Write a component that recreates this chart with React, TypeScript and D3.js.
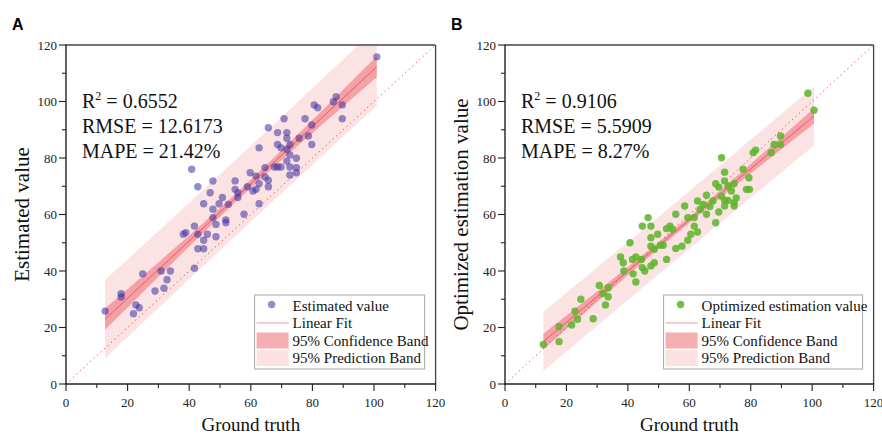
import React from 'react';
import * as d3 from 'd3';

const W = 882;
const H = 435;

// Panel A: ground truth vs estimated value
const groundTruthA = [12.7, 17.9, 17.9, 24.9, 22.7, 23.8, 21.9, 28.9, 30.9, 33.9, 32.8, 31.8, 41.7, 38.1, 38.9, 41.7, 42.8, 42.8, 44.7, 44.7, 45.9, 40.8, 42.8, 44.7, 46.8, 47.7, 47.7, 47.7, 48.7, 48.7, 49.7, 50.8, 51.9, 51.9, 52.7, 54.9, 54.9, 55.8, 55.8, 57.8, 58.9, 59.8, 60.7, 61.7, 61.7, 62.7, 62.7, 62.7, 64.6, 64.6, 65.7, 65.7, 65.7, 67.7, 68.7, 68.7, 68.7, 69.8, 69.8, 70.8, 71.7, 71.7, 71.7, 71.7, 72.7, 72.7, 72.7, 72.7, 74.8, 74.8, 74.8, 75.7, 77.6, 78.7, 79.8, 79.8, 80.6, 81.7, 86.8, 87.7, 89.7, 89.7, 100.9];
const estimatedA = [25.8, 32.0, 30.8, 39.0, 28.0, 27.0, 24.9, 32.9, 40.0, 40.0, 36.9, 33.9, 41.0, 53.0, 53.6, 55.9, 53.0, 47.9, 47.9, 50.9, 53.0, 76.0, 69.8, 63.8, 67.7, 71.9, 61.9, 58.9, 56.5, 52.1, 63.8, 66.0, 58.1, 57.1, 63.6, 71.9, 68.9, 66.0, 67.7, 60.1, 69.8, 74.8, 68.3, 68.9, 73.6, 83.6, 70.9, 63.8, 76.6, 73.3, 90.7, 72.1, 69.8, 76.8, 76.8, 89.0, 84.8, 83.6, 76.8, 93.9, 89.0, 87.0, 83.1, 78.9, 76.8, 74.0, 84.8, 81.1, 79.9, 76.6, 74.8, 87.0, 93.9, 87.8, 91.7, 84.8, 98.8, 97.8, 99.9, 101.7, 98.8, 93.9, 115.8];

// Panel B: ground truth vs optimized estimation value
const groundTruthB = [12.5, 17.6, 17.6, 21.7, 22.8, 23.6, 24.7, 28.7, 30.7, 31.8, 32.7, 33.6, 33.6, 37.6, 38.5, 38.7, 40.7, 41.5, 41.7, 42.6, 42.6, 44.4, 44.7, 44.7, 45.5, 46.6, 47.5, 47.5, 47.5, 47.5, 48.6, 48.6, 49.7, 50.6, 51.5, 52.6, 52.6, 53.7, 54.5, 55.6, 55.6, 57.6, 58.5, 59.5, 59.5, 60.5, 61.6, 61.6, 62.7, 62.7, 63.5, 64.6, 65.6, 65.6, 66.7, 67.7, 68.6, 68.6, 69.6, 69.6, 70.5, 70.5, 71.5, 71.5, 71.5, 71.5, 72.6, 72.6, 73.7, 74.6, 74.6, 75.3, 74.6, 77.5, 79.4, 78.6, 79.6, 80.8, 81.6, 86.7, 87.6, 89.7, 89.7, 98.6, 100.6];
const optimizedB = [14.0, 20.3, 15.0, 20.9, 25.8, 22.9, 30.0, 23.1, 34.9, 32.0, 28.0, 30.9, 34.1, 45.0, 42.9, 40.0, 50.0, 44.1, 39.0, 45.0, 36.1, 44.1, 55.9, 41.2, 40.0, 58.9, 55.9, 51.8, 48.8, 41.8, 42.9, 47.7, 53.0, 49.1, 49.1, 55.0, 44.1, 55.9, 54.8, 60.1, 48.0, 48.8, 63.0, 58.9, 50.9, 53.0, 55.9, 58.9, 64.8, 53.8, 61.8, 63.6, 66.8, 60.1, 62.8, 64.8, 70.9, 57.1, 60.9, 69.7, 80.1, 66.5, 75.0, 71.9, 65.0, 63.0, 70.1, 65.0, 68.3, 70.9, 64.2, 65.9, 63.0, 76.0, 73.0, 68.9, 68.9, 81.9, 82.8, 81.9, 84.8, 84.8, 87.8, 102.9, 96.9];

const axisTicks = [0, 20, 40, 60, 80, 100, 120];
const minorTicks = [10, 30, 50, 70, 90, 110];
const statsA = ['0.6552', '12.6173', '21.42%'];
const statsB = ['0.9106', '5.5909', '8.27%'];
const legendLabels = ['Linear Fit', '95% Confidence Band', '95% Prediction Band'];

const SERIF = "'Liberation Serif', 'Times New Roman', Times, serif";
const SANS = "'Liberation Sans', Arial, Helvetica, sans-serif";

function regression(xs: number[], ys: number[]) {
  const n = xs.length;
  const mx = d3.mean(xs) as number;
  const my = d3.mean(ys) as number;
  const sxx = d3.sum(xs, (x) => (x - mx) ** 2);
  const sxy = d3.sum(xs.map((x, i) => (x - mx) * (ys[i] - my)));
  const b = sxy / sxx;
  const a = my - b * mx;
  const sse = d3.sum(xs.map((x, i) => (ys[i] - a - b * x) ** 2));
  const s = Math.sqrt(sse / (n - 2));
  const t = 1.99;
  const xmin = d3.min(xs) as number;
  const xmax = d3.max(xs) as number;
  const grid = d3.range(0, 61).map((i) => xmin + ((xmax - xmin) * i) / 60);
  const rows = grid.map((x) => {
    const yh = a + b * x;
    const se = s * Math.sqrt(1 / n + (x - mx) ** 2 / sxx);
    const sp = s * Math.sqrt(1 + 1 / n + (x - mx) ** 2 / sxx);
    return { x, yh, cLo: yh - t * se, cHi: yh + t * se, pLo: yh - t * sp, pHi: yh + t * sp };
  });
  return { rows };
}

type PanelProps = {
  id: string;
  letter: string;
  left: number;
  right: number;
  xs: number[];
  ys: number[];
  color: string;
  opacity: number;
  yTitle: string;
  pointLabel: string;
  stats: string[];
  legendWidth: number;
};

function Panel(p: PanelProps) {
  const top = 45;
  const bottom = 384;
  const x = d3.scaleLinear().domain([0, 120]).range([p.left, p.right]);
  const y = d3.scaleLinear().domain([0, 120]).range([bottom, top]);
  const { rows } = regression(p.xs, p.ys);
  const predArea = d3.area<any>().x((d) => x(d.x)).y0((d) => y(d.pLo)).y1((d) => y(d.pHi))(rows) as string;
  const confArea = d3.area<any>().x((d) => x(d.x)).y0((d) => y(d.cLo)).y1((d) => y(d.cHi))(rows) as string;
  const fitLine = d3.line<any>().x((d) => x(d.x)).y((d) => y(d.yh))(rows) as string;
  const clipId = `clip-${p.id}`;
  const lx = p.right - 11 - p.legendWidth;
  const ly = 295;
  const rowY = [306, 323.5, 341, 358.5];
  const cx = (p.left + p.right) / 2;
  const cy = (top + bottom) / 2;
  return (
    <g>
      <defs>
        <clipPath id={clipId}>
          <rect x={p.left} y={top} width={p.right - p.left} height={bottom - top} />
        </clipPath>
      </defs>
      <g clipPath={`url(#${clipId})`}>
        <path d={predArea} fill="#f8c8ca" fillOpacity={0.5} />
        <path d={confArea} fill="#ef6b73" fillOpacity={0.55} />
        <line x1={x(0)} y1={y(0)} x2={x(120)} y2={y(120)} stroke="#f03c3c" strokeWidth={1} strokeDasharray="1.2,3.5" />
        <path d={fitLine} fill="none" stroke="#e8505c" strokeWidth={0.9} />
        {p.xs.map((v, i) => (
          <circle key={i} cx={x(v)} cy={y(p.ys[i])} r={3.7} fill={p.color} fillOpacity={p.opacity} />
        ))}
      </g>
      {/* frame */}
      <line x1={p.left} y1={top} x2={p.right} y2={top} stroke="#444" strokeWidth={1.3} />
      <line x1={p.right} y1={top} x2={p.right} y2={bottom} stroke="#444" strokeWidth={1.3} />
      <line x1={p.left} y1={top - 0.6} x2={p.left} y2={bottom + 0.6} stroke="#222" strokeWidth={1.4} />
      <line x1={p.left - 0.6} y1={bottom} x2={p.right + 0.6} y2={bottom} stroke="#222" strokeWidth={1.4} />
      {axisTicks.map((t) => (
        <g key={`y${t}`}>
          <line x1={p.left - 7} x2={p.left} y1={y(t)} y2={y(t)} stroke="#222" strokeWidth={1.1} />
          <text x={p.left - 9} y={y(t)} dy="0.35em" textAnchor="end" fontFamily={SERIF} fontSize={13} fill="#222">{t}</text>
          <line x1={x(t)} x2={x(t)} y1={bottom} y2={bottom + 7} stroke="#222" strokeWidth={1.1} />
          <text x={x(t)} y={407} textAnchor="middle" fontFamily={SERIF} fontSize={13} fill="#222">{t}</text>
        </g>
      ))}
      {minorTicks.map((t) => (
        <g key={`m${t}`}>
          <line x1={p.left - 4} x2={p.left} y1={y(t)} y2={y(t)} stroke="#222" strokeWidth={1.1} />
          <line x1={x(t)} x2={x(t)} y1={bottom} y2={bottom + 4} stroke="#222" strokeWidth={1.1} />
        </g>
      ))}
      <text x={cx} y={431} textAnchor="middle" fontFamily={SERIF} fontSize={19} fill="#111">Ground truth</text>
      <text transform={`translate(${p.left - 44},${cy}) rotate(-90)`} textAnchor="middle" dy="0.35em" fontFamily={SERIF} fontSize={21} fill="#111">{p.yTitle}</text>
      <text x={p.left - 54} y={30} fontFamily={SANS} fontWeight="bold" fontSize={16} fill="#000">{p.letter}</text>
      {/* stats */}
      <g fontFamily={SERIF} fontSize={20} fill="#111">
        <text x={p.left + 16} y={107.5}>R<tspan fontSize={12} dy={-8}>2</tspan><tspan dy={8}> = {p.stats[0]}</tspan></text>
        <text x={p.left + 16} y={132.8}>RMSE = {p.stats[1]}</text>
        <text x={p.left + 16} y={158.2}>MAPE = {p.stats[2]}</text>
      </g>
      {/* legend */}
      <rect x={lx} y={ly} width={p.legendWidth} height={74} fill="#fff" stroke="#a8a8a8" strokeWidth={1} />
      <circle cx={lx + 17} cy={rowY[0] - 1.5} r={3.7} fill={p.color} fillOpacity={p.opacity} />
      <line x1={lx + 2} x2={lx + 34} y1={rowY[1] - 0.5} y2={rowY[1] - 0.5} stroke="#f29aa0" strokeWidth={1.2} />
      <rect x={lx + 2} y={rowY[2] - 8.5} width={32} height={16} fill="#f5aeb2" />
      <rect x={lx + 2} y={rowY[3] - 8.5} width={32} height={16} fill="#fbe1e2" />
      <g fontFamily={SERIF} fontSize={15} fill="#111">
        <text x={lx + 38} y={rowY[0]} dy="0.33em">{p.pointLabel}</text>
        {legendLabels.map((l, i) => (
          <text key={l} x={lx + 38} y={rowY[i + 1]} dy="0.33em">{l}</text>
        ))}
      </g>
    </g>
  );
}

export default function App() {
  return (
    <svg width={W} height={H} viewBox={`0 0 ${W} ${H}`} style={{ position: 'absolute', left: 0, top: 0, background: '#fff' }}>
      <rect width={W} height={H} fill="#fff" />
      <Panel id="a" letter="A" left={66} right={435.6} xs={groundTruthA} ys={estimatedA} color="#3c2fa0" opacity={0.55} yTitle="Estimated value" pointLabel="Estimated value" stats={statsA} legendWidth={170} />
      <Panel id="b" letter="B" left={505} right={873.6} xs={groundTruthB} ys={optimizedB} color="#5fb52e" opacity={0.88} yTitle="Optimized estimation value" pointLabel="Optimized estimation value" stats={statsB} legendWidth={199} />
    </svg>
  );
}
